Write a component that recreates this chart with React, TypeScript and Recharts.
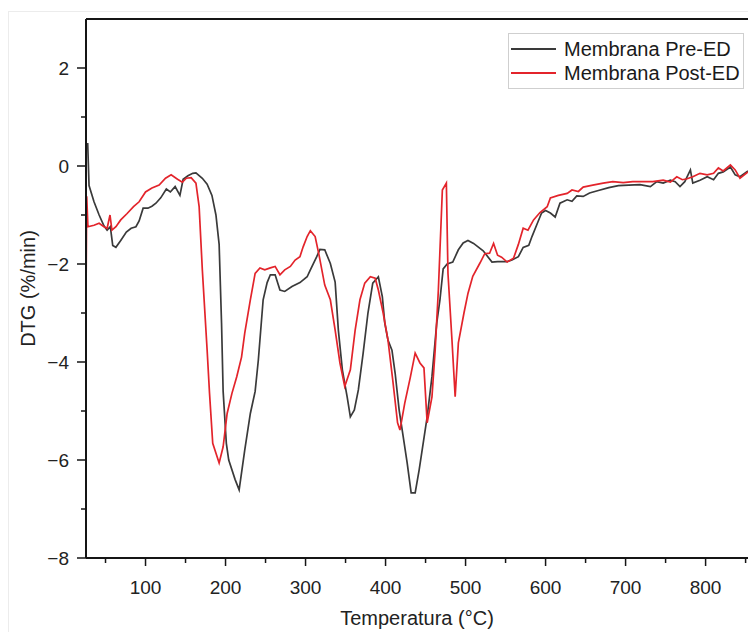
import React from "react";
import {
  LineChart,
  Line,
  XAxis,
  YAxis,
  Legend,
  ReferenceLine,
} from "recharts";

// temperatures (°C) and DTG values (%/min)
const preTemp = [
  27.7, 29.4, 35.6, 42, 48, 52, 56, 59, 63, 69, 76, 82, 88, 92, 97, 103, 108, 113, 119, 126,
  131, 137, 143, 147, 153, 159, 163, 171, 177, 183, 188, 192, 195, 197, 201, 204, 212, 217, 224, 231,
  237, 241, 247, 252, 256, 262, 268, 274, 283, 293, 302, 306, 314, 318, 324, 331, 337, 341, 346, 352,
  356, 361, 366, 372, 378, 384, 391, 396, 399, 403, 408, 412, 417, 422, 427, 432, 437, 442, 447, 452,
  458, 464, 468, 472, 477, 484, 491, 497, 503, 510, 522, 533, 540, 546, 552, 558, 566, 572, 579, 583,
  589, 595, 600, 606, 612, 618, 627, 633, 639, 647, 655, 666, 679, 691, 704, 718, 731, 739, 747, 756,
  762, 768, 774, 781, 784, 793, 802, 810, 816, 822, 831, 837, 843, 853,
];
const preDtg = [
  0.47, -0.4, -0.73, -1.0, -1.22, -1.31, -1.24, -1.62, -1.66, -1.52, -1.35, -1.27, -1.24, -1.12, -0.86, -0.86, -0.82, -0.76, -0.65, -0.47,
  -0.53, -0.42, -0.6, -0.27, -0.2, -0.15, -0.14, -0.25, -0.37, -0.6, -1.0, -1.6, -3.2, -4.6, -5.66, -6.0, -6.4, -6.61, -5.8, -5.05,
  -4.6, -3.96, -2.73, -2.38, -2.22, -2.22, -2.53, -2.56, -2.46, -2.38, -2.26, -2.12, -1.85, -1.7, -1.71, -1.99, -2.37, -3.35, -4.16, -4.71,
  -5.12, -4.98, -4.57, -3.82, -3.0, -2.39, -2.26, -2.67, -3.2, -3.55, -3.76, -4.23, -4.98, -5.52, -6.06, -6.67, -6.67, -6.2, -5.66, -5.12,
  -4.3, -3.2, -2.73, -2.1, -2.0, -1.96, -1.71, -1.57, -1.52, -1.58, -1.73, -1.96, -1.95, -1.95, -1.95, -1.92, -1.85, -1.66, -1.62, -1.44,
  -1.2, -0.96, -0.91, -0.96, -1.04, -0.76, -0.69, -0.72, -0.61, -0.62, -0.55, -0.5, -0.44, -0.4, -0.39, -0.38, -0.42, -0.32, -0.35, -0.29,
  -0.32, -0.42, -0.32, -0.08, -0.35, -0.29, -0.22, -0.28, -0.15, -0.12, -0.02, -0.18, -0.22, -0.1,
];

const postTemp = [
  25.6, 26.5, 28, 35.6, 42, 48, 52, 55.6, 58, 63, 69, 77, 85, 92, 100, 108, 117, 125, 132, 140,
  146, 151, 157, 163, 167, 171, 177, 180, 184, 192, 197, 202, 208, 214, 220, 224, 231, 237, 243, 249,
  256, 262, 268, 274, 281, 287, 293, 297, 302, 306, 312, 317, 324, 331, 337, 343, 349, 356, 362, 368,
  374, 381, 387, 391, 397, 403, 409, 415, 418, 424, 431, 437, 443, 448, 452, 458, 462, 466, 469, 471,
  476, 478, 483, 487, 491, 498, 503, 509, 518, 524, 530, 535, 540, 545, 552, 560, 566, 572, 578, 585,
  593, 602, 606, 616, 627, 633, 641, 647, 659, 672, 684, 697, 709, 722, 734, 747, 756, 764, 771, 777,
  784, 793, 802, 810, 816, 822, 831, 837, 843, 853,
];
const postDtg = [
  -2.7, -0.62, -1.24, -1.21, -1.17, -1.24, -1.27, -1.0, -1.31, -1.24, -1.1, -0.97, -0.83, -0.73, -0.53, -0.45, -0.39, -0.25, -0.18, -0.27,
  -0.33, -0.25, -0.24, -0.35, -0.83, -2.12, -3.76, -4.64, -5.66, -6.06, -5.73, -5.05, -4.64, -4.3, -3.9, -3.41, -2.73, -2.19, -2.08, -2.12,
  -2.08, -2.05, -2.22, -2.12, -2.05, -1.92, -1.85, -1.65, -1.44, -1.32, -1.44, -1.83, -2.43, -2.73, -3.35, -4.02, -4.5, -4.16, -3.35, -2.73,
  -2.39, -2.26, -2.29, -2.53, -3.0, -3.55, -4.37, -5.24, -5.39, -4.84, -4.31, -3.82, -4.02, -4.12, -5.24, -4.71, -3.76, -2.53, -1.31, -0.49,
  -0.35, -2.19, -3.55, -4.71, -3.61, -3.0, -2.6, -2.25, -1.98, -1.79, -1.78, -1.58, -1.82, -1.86, -1.96, -1.88, -1.6, -1.27, -1.31, -1.1,
  -0.95, -0.83, -0.65, -0.6, -0.56, -0.49, -0.52, -0.43, -0.39, -0.35, -0.32, -0.34, -0.32, -0.32, -0.32, -0.29, -0.33, -0.22, -0.28, -0.26,
  -0.22, -0.15, -0.18, -0.15, -0.04, -0.1, 0.02, -0.08, -0.25, -0.12,
];

const xTicks = [50, 100, 150, 200, 250, 300, 350, 400, 450, 500, 550, 600, 650, 700, 750, 800, 850];
const yTicks = [-8, -7, -6, -5, -4, -3, -2, -1, 0, 1, 2];

const seriesNames = ["Membrana Pre-ED", "Membrana Post-ED"];
const seriesColors = ["#3a3a3a", "#e3242b"];

const preData = preTemp.map((t, i) => ({ t, v: preDtg[i] }));
const postData = postTemp.map((t, i) => ({ t, v: postDtg[i] }));

const font = "'Liberation Sans', Arial, sans-serif";
const axisColor = "#151515";

const XTick = (props: any) => {
  const { x, y, payload } = props;
  const major = payload.value % 100 === 0;
  return (
    <g>
      <line x1={x} x2={x} y1={y} y2={y + (major ? 8 : 5)} stroke={axisColor} strokeWidth={1.5} />
      {major && (
        <text x={x} y={y + 29} textAnchor="middle" dominantBaseline="central" fontSize={19} fill="#222" fontFamily={font}>
          {payload.value}
        </text>
      )}
    </g>
  );
};

const YTick = (props: any) => {
  const { x, y, payload } = props;
  const major = payload.value % 2 === 0;
  return (
    <g>
      <line x1={x} x2={x - (major ? 9 : 5)} y1={y} y2={y} stroke={axisColor} strokeWidth={1.5} />
      {major && (
        <text x={x - 17} y={y} textAnchor="end" dominantBaseline="central" fontSize={19} fill="#222" fontFamily={font}>
          {payload.value < 0 ? `\u2212${Math.abs(payload.value)}` : payload.value}
        </text>
      )}
    </g>
  );
};

const LegendBox = () => (
  <div
    style={{
      border: "1px solid #cfcfcf",
      background: "#fff",
      padding: "3px 3px 3px 2px",
      fontFamily: font,
      fontSize: 20,
      color: "#1a1a1a",
      lineHeight: "24px",
    }}
  >
    {seriesNames.map((name, i) => (
      <div key={name} style={{ display: "flex", alignItems: "center", whiteSpace: "nowrap" }}>
        <span style={{ display: "inline-block", width: 45, height: 2, background: seriesColors[i], marginRight: 8 }} />
        {name}
      </div>
    ))}
  </div>
);

export default function App() {
  return (
    <div style={{ position: "absolute", left: 0, top: 0, width: 748, height: 632, background: "#fff" }}>
      <div
        style={{
          position: "absolute",
          left: 8,
          top: 11,
          width: 760,
          height: 640,
          borderLeft: "1px solid #ececec",
          borderTop: "1px solid #ececec",
        }}
      />
      <LineChart width={748} height={632} margin={{ top: 19, right: 0, bottom: 0, left: 0 }}>
        <XAxis
          dataKey="t"
          type="number"
          domain={[25.6, 853]}
          allowDataOverflow
          ticks={xTicks}
          interval={0}
          tick={<XTick />}
          tickLine={false}
          tickSize={0}
          tickMargin={0}
          height={74}
          axisLine={{ stroke: axisColor, strokeWidth: 2 }}
          label={{
            value: "Temperatura (°C)",
            position: "insideBottom",
            offset: 7,
            style: { fontSize: 20, fill: "#222", fontFamily: font },
          }}
        />
        <YAxis
          type="number"
          domain={[-8, 3]}
          allowDataOverflow
          ticks={yTicks}
          interval={0}
          tick={<YTick />}
          tickLine={false}
          tickSize={0}
          tickMargin={0}
          width={86}
          axisLine={{ stroke: axisColor, strokeWidth: 2 }}
          label={{
            value: "DTG (%/min)",
            angle: -90,
            position: "insideLeft",
            offset: 28,
            style: { fontSize: 20, fill: "#222", fontFamily: font, textAnchor: "middle" },
          }}
        />
        <ReferenceLine y={3} stroke={axisColor} strokeWidth={2} />
        <Legend
          layout="vertical"
          align="center"
          verticalAlign="middle"
          content={() => <LegendBox />}
          wrapperStyle={{ left: 508, top: 33, width: "auto" }}
        />
        <Line
          data={preData}
          dataKey="v"
          name={seriesNames[0]}
          type="linear"
          stroke={seriesColors[0]}
          strokeWidth={1.7}
          dot={false}
          isAnimationActive={false}
        />
        <Line
          data={postData}
          dataKey="v"
          name={seriesNames[1]}
          type="linear"
          stroke={seriesColors[1]}
          strokeWidth={1.7}
          dot={false}
          isAnimationActive={false}
        />
      </LineChart>
    </div>
  );
}
